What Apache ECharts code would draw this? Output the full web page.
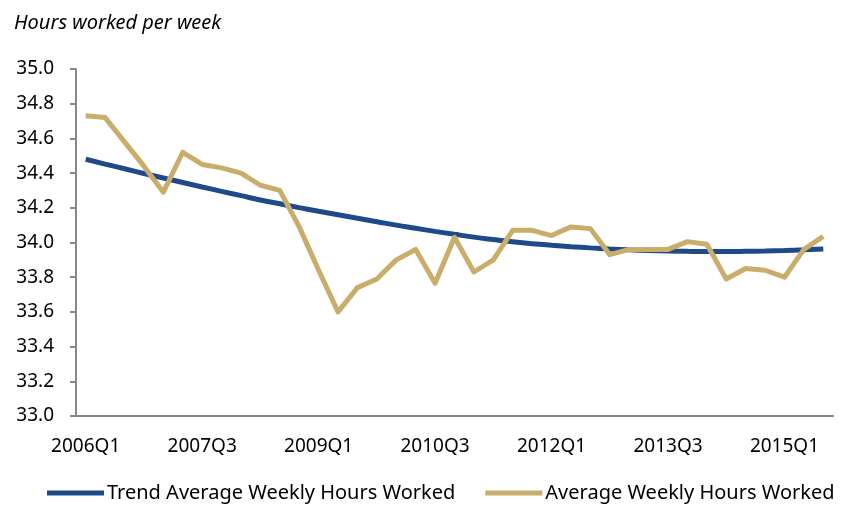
<!DOCTYPE html>
<html>
<head>
<meta charset="utf-8">
<script src="https://cdn.jsdelivr.net/npm/echarts@6/dist/echarts.min.js"></script>
<style>
  html, body { margin: 0; padding: 0; background: #fff; }
  #chart { width: 848px; height: 508px; }
</style>
</head>
<body>
<div id="chart"></div>
<script>
const quarters = [
  "2006Q1", "2006Q2", "2006Q3", "2006Q4", "2007Q1", "2007Q2", "2007Q3", "2007Q4",
  "2008Q1", "2008Q2", "2008Q3", "2008Q4", "2009Q1", "2009Q2", "2009Q3", "2009Q4",
  "2010Q1", "2010Q2", "2010Q3", "2010Q4", "2011Q1", "2011Q2", "2011Q3", "2011Q4",
  "2012Q1", "2012Q2", "2012Q3", "2012Q4", "2013Q1", "2013Q2", "2013Q3", "2013Q4",
  "2014Q1", "2014Q2", "2014Q3", "2014Q4", "2015Q1", "2015Q2", "2015Q3"
];

// trend series (smooth)
const trendHours = [
  34.48, 34.452, 34.425, 34.398, 34.372, 34.346, 34.32, 34.295, 34.27, 34.245,
  34.223, 34.201, 34.18, 34.16, 34.14, 34.12, 34.10, 34.082, 34.064, 34.047,
  34.031, 34.017, 34.004, 33.993, 33.984, 33.976, 33.969, 33.963, 33.958, 33.954,
  33.951, 33.949, 33.948, 33.948, 33.949, 33.951, 33.954, 33.958, 33.963
];

// original series
const avgHours = [
  34.73, 34.72, 34.58, 34.44, 34.29, 34.52, 34.45, 34.43, 34.40, 34.33,
  34.30, 34.09, 33.84, 33.60, 33.74, 33.79, 33.90, 33.96, 33.765, 34.03,
  33.83, 33.90, 34.07, 34.07, 34.04, 34.09, 34.08, 33.93, 33.96, 33.96,
  33.96, 34.005, 33.99, 33.79, 33.85, 33.84, 33.80, 33.96, 34.035
];

const blue = "#1F4A8A";
const gold = "#C9AD6B";
const font = "Noto Sans";

let myChart = echarts.init(document.getElementById("chart"), null, { renderer: "canvas" });

let option = {
  animation: false,
  textStyle: { fontFamily: font },
  title: {
    text: "Hours worked per week",
    left: 9,
    top: 8,
    textStyle: {
      fontFamily: font,
      fontStyle: "italic",
      fontWeight: "normal",
      fontSize: 20,
      color: "#000"
    }
  },
  grid: {
    left: 76,
    right: 15,
    top: 69,
    bottom: 92,
    containLabel: false
  },
  legend: {
    bottom: 0,
    left: 42,
    itemGap: 30,
    itemWidth: 57,
    itemHeight: 5,
    icon: "rect",
    textStyle: { fontFamily: font, fontSize: 20, color: "#000", padding: [0, 0, 0, -2] },
    data: ["Trend Average Weekly Hours Worked", "Average Weekly Hours Worked"]
  },
  xAxis: {
    type: "category",
    data: quarters,
    boundaryGap: true,
    axisLine: { lineStyle: { color: "#888", width: 2 } },
    axisTick: {
      interval: 5,
      length: 6,
      lineStyle: { color: "#888", width: 2 }
    },
    axisLabel: {
      interval: 5,
      margin: 21,
      fontFamily: font,
      fontSize: 19,
      color: "#000"
    },
    splitLine: { show: false }
  },
  yAxis: {
    type: "value",
    min: 33,
    max: 35,
    interval: 0.2,
    axisLine: { show: true, lineStyle: { color: "#888", width: 2 } },
    axisTick: { show: true, length: 6, lineStyle: { color: "#888", width: 2 } },
    axisLabel: {
      margin: 22,
      fontFamily: font,
      fontSize: 19,
      color: "#000",
      formatter: function (v) { return v.toFixed(1); }
    },
    splitLine: { show: false }
  },
  series: [
    {
      name: "Trend Average Weekly Hours Worked",
      type: "line",
      data: trendHours,
      smooth: true,
      showSymbol: false,
      symbol: "none",
      lineStyle: { color: blue, width: 5 },
      itemStyle: { color: blue }
    },
    {
      name: "Average Weekly Hours Worked",
      type: "line",
      data: avgHours,
      showSymbol: false,
      symbol: "none",
      lineStyle: { color: gold, width: 5, join: "round" },
      itemStyle: { color: gold }
    }
  ]
};

myChart.setOption(option);
window.addEventListener("resize", function () {
  myChart.resize();
});
</script>
</body>
</html>
